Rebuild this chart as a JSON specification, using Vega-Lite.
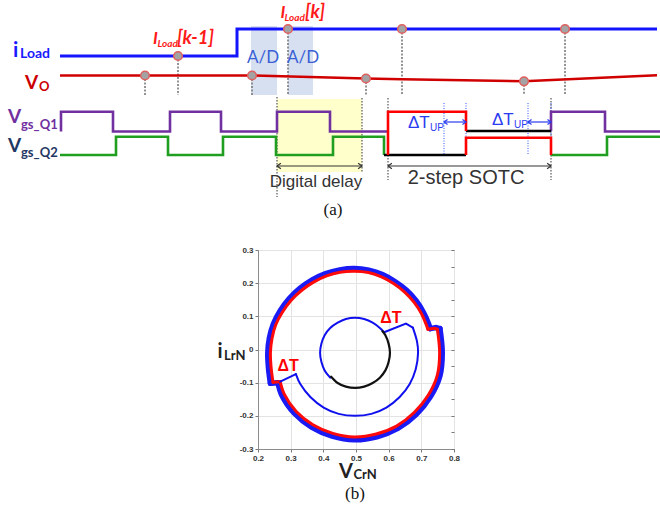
{
  "$schema": "https://vega.github.io/schema/vega-lite/v6.json",
  "padding": 0,
  "background": "white",
  "spacing": 25,
  "config": {"view": {"stroke": null}, "font": "Liberation Sans"},
  "vconcat": [
    {
      "width": 660,
      "height": 220,
      "encoding": {
        "x": {"field": "t", "type": "quantitative", "scale": {"domain": [0, 660], "nice": false, "zero": false}, "axis": null},
        "y": {"field": "v", "type": "quantitative", "scale": {"domain": [0, 220], "nice": false, "zero": false, "reverse": true}, "axis": null}
      },
      "layer": [
        {
          "data": {"values": [{"t": 251, "t2": 277, "v": 26, "v2": 95}, {"t": 288, "t2": 313, "v": 26, "v2": 95}]},
          "mark": {"type": "rect", "color": "#d6e0f0"},
          "encoding": {"x2": {"field": "t2"}, "y2": {"field": "v2"}}
        },
        {
          "data": {"values": [{"t": 277, "t2": 362, "v": 99, "v2": 172}]},
          "mark": {"type": "rect", "color": "#ffffcc"},
          "encoding": {"x2": {"field": "t2"}, "y2": {"field": "v2"}}
        },
        {
          "data": {"values": [
            {"t": 145, "v": 75.5, "v2": 95}, {"t": 178, "v": 56, "v2": 95}, {"t": 252, "v": 75.5, "v2": 95}, {"t": 288, "v": 29, "v2": 95},
            {"t": 366, "v": 78.5, "v2": 95}, {"t": 402, "v": 29, "v2": 95}, {"t": 524, "v": 81.3, "v2": 95}, {"t": 565, "v": 29, "v2": 95}
          ]},
          "mark": {"type": "rule", "color": "#7a7a7a", "strokeWidth": 1.6, "strokeDash": [2, 1.5]},
          "encoding": {"y2": {"field": "v2"}}
        },
        {
          "data": {"values": [{"t": 277, "v": 97, "v2": 197}, {"t": 362, "v": 98, "v2": 172}, {"t": 388, "v": 98, "v2": 180}, {"t": 551, "v": 98, "v2": 180}]},
          "mark": {"type": "rule", "color": "#555555", "strokeWidth": 1.2, "strokeDash": [1.5, 1.5]},
          "encoding": {"y2": {"field": "v2"}}
        },
        {
          "data": {"values": [{"t": 444, "v": 103, "v2": 155}, {"t": 466, "v": 103, "v2": 155}, {"t": 528, "v": 103, "v2": 155}, {"t": 551, "v": 103, "v2": 155}]},
          "mark": {"type": "rule", "color": "#3355ff", "strokeWidth": 1, "strokeDash": [1, 1.5]},
          "encoding": {"y2": {"field": "v2"}}
        },
        {
          "data": {"values": [
            {"seg": "a", "o": 1, "t": 61, "v": 131.5}, {"seg": "a", "o": 2, "t": 61, "v": 111.7}, {"seg": "a", "o": 3, "t": 113, "v": 111.7}, {"seg": "a", "o": 4, "t": 113, "v": 131.5},
            {"seg": "a", "o": 5, "t": 170, "v": 131.5}, {"seg": "a", "o": 6, "t": 170, "v": 111.7}, {"seg": "a", "o": 7, "t": 221, "v": 111.7}, {"seg": "a", "o": 8, "t": 221, "v": 131.5},
            {"seg": "a", "o": 9, "t": 277, "v": 131.5}, {"seg": "a", "o": 10, "t": 277, "v": 111.7}, {"seg": "a", "o": 11, "t": 330, "v": 111.7}, {"seg": "a", "o": 12, "t": 330, "v": 131.5},
            {"seg": "a", "o": 13, "t": 388, "v": 131.5},
            {"seg": "b", "o": 1, "t": 551, "v": 131}, {"seg": "b", "o": 2, "t": 551, "v": 111.7}, {"seg": "b", "o": 3, "t": 605, "v": 111.7}, {"seg": "b", "o": 4, "t": 605, "v": 131.5}, {"seg": "b", "o": 5, "t": 660, "v": 131.5}
          ]},
          "mark": {"type": "line", "color": "#7030a0", "strokeWidth": 2.6},
          "encoding": {"detail": {"field": "seg"}, "order": {"field": "o"}}
        },
        {
          "data": {"values": [
            {"seg": "a", "o": 1, "t": 60, "v": 155}, {"seg": "a", "o": 2, "t": 116, "v": 155}, {"seg": "a", "o": 3, "t": 116, "v": 136.7}, {"seg": "a", "o": 4, "t": 168, "v": 136.7},
            {"seg": "a", "o": 5, "t": 168, "v": 155}, {"seg": "a", "o": 6, "t": 223, "v": 155}, {"seg": "a", "o": 7, "t": 223, "v": 136.7}, {"seg": "a", "o": 8, "t": 276, "v": 136.7},
            {"seg": "a", "o": 9, "t": 276, "v": 155}, {"seg": "a", "o": 10, "t": 333, "v": 155}, {"seg": "a", "o": 11, "t": 333, "v": 136.7}, {"seg": "a", "o": 12, "t": 384, "v": 136.7},
            {"seg": "a", "o": 13, "t": 384, "v": 155},
            {"seg": "b", "o": 1, "t": 551, "v": 155}, {"seg": "b", "o": 2, "t": 607, "v": 155}, {"seg": "b", "o": 3, "t": 607, "v": 136.7}, {"seg": "b", "o": 4, "t": 660, "v": 136.7}
          ]},
          "mark": {"type": "line", "color": "#1f9e1f", "strokeWidth": 2.6},
          "encoding": {"detail": {"field": "seg"}, "order": {"field": "o"}}
        },
        {
          "data": {"values": [
            {"seg": "a", "o": 1, "t": 466, "v": 131}, {"seg": "a", "o": 2, "t": 551, "v": 131},
            {"seg": "b", "o": 1, "t": 384, "v": 155}, {"seg": "b", "o": 2, "t": 466, "v": 155}
          ]},
          "mark": {"type": "line", "color": "#000000", "strokeWidth": 2.6},
          "encoding": {"detail": {"field": "seg"}, "order": {"field": "o"}}
        },
        {
          "data": {"values": [
            {"seg": "a", "o": 1, "t": 388, "v": 155}, {"seg": "a", "o": 2, "t": 388, "v": 111.7}, {"seg": "a", "o": 3, "t": 466, "v": 111.7}, {"seg": "a", "o": 4, "t": 466, "v": 131},
            {"seg": "b", "o": 1, "t": 466, "v": 155}, {"seg": "b", "o": 2, "t": 466, "v": 137.7}, {"seg": "b", "o": 3, "t": 551, "v": 137.7}, {"seg": "b", "o": 4, "t": 551, "v": 155}
          ]},
          "mark": {"type": "line", "color": "#ff0000", "strokeWidth": 2.6},
          "encoding": {"detail": {"field": "seg"}, "order": {"field": "o"}}
        },
        {
          "data": {"values": [{"o": 1, "t": 60, "v": 56}, {"o": 2, "t": 237, "v": 56}, {"o": 3, "t": 237, "v": 29}, {"o": 4, "t": 657, "v": 29}]},
          "mark": {"type": "line", "color": "#1414ff", "strokeWidth": 3},
          "encoding": {"order": {"field": "o"}}
        },
        {
          "data": {"values": [{"o": 1, "t": 60, "v": 75.5}, {"o": 2, "t": 252, "v": 75.5}, {"o": 3, "t": 366, "v": 78.5}, {"o": 4, "t": 402, "v": 79.3}, {"o": 5, "t": 524, "v": 81.3}, {"o": 6, "t": 657, "v": 75.3}]},
          "mark": {"type": "line", "color": "#d00000", "strokeWidth": 2.6},
          "encoding": {"order": {"field": "o"}}
        },
        {
          "data": {"values": [
            {"t": 178, "v": 56}, {"t": 288, "v": 29}, {"t": 402, "v": 29}, {"t": 565, "v": 29},
            {"t": 145, "v": 75.5}, {"t": 252, "v": 75.5}, {"t": 366, "v": 78.5}, {"t": 524, "v": 81.3}
          ]},
          "mark": {"type": "point", "shape": "circle", "filled": true, "fill": "#a3a3a3", "stroke": "#e06060", "strokeWidth": 1.5, "size": 75, "opacity": 1}
        },
        {
          "data": {"values": [{"t": 277, "t2": 362, "v": 166}, {"t": 388, "t2": 551, "v": 166}]},
          "mark": {"type": "rule", "color": "#333333", "strokeWidth": 1.2},
          "encoding": {"x2": {"field": "t2"}}
        },
        {
          "data": {"values": [{"t": 444, "t2": 466, "v": 122}, {"t": 528, "t2": 551, "v": 122}]},
          "mark": {"type": "rule", "color": "#2a3cf0", "strokeWidth": 1.2},
          "encoding": {"x2": {"field": "t2"}}
        },
        {
          "data": {"values": [{"t": 277, "v": 166}, {"t": 388, "v": 166}]},
          "mark": {"type": "point", "shape": "M1,-0.7L0,0L1,0.7", "filled": false, "color": "#333333", "strokeWidth": 1.2, "size": 60, "opacity": 1}
        },
        {
          "data": {"values": [{"t": 362, "v": 166}, {"t": 551, "v": 166}]},
          "mark": {"type": "point", "shape": "M-1,-0.7L0,0L-1,0.7", "filled": false, "color": "#333333", "strokeWidth": 1.2, "size": 60, "opacity": 1}
        },
        {
          "data": {"values": [{"t": 444, "v": 122}, {"t": 528, "v": 122}]},
          "mark": {"type": "point", "shape": "M1,-0.7L0,0L1,0.7", "filled": false, "color": "#2a3cf0", "strokeWidth": 1.2, "size": 50, "opacity": 1}
        },
        {
          "data": {"values": [{"t": 466, "v": 122}, {"t": 551, "v": 122}]},
          "mark": {"type": "point", "shape": "M-1,-0.7L0,0L-1,0.7", "filled": false, "color": "#2a3cf0", "strokeWidth": 1.2, "size": 50, "opacity": 1}
        },
        {
          "data": {"values": [{"t": 13, "v": 57, "s": "i"}]},
          "mark": {"type": "text", "font": "Lato", "fontWeight": "bold", "fontSize": 21, "color": "#1a1aff", "align": "left", "baseline": "alphabetic"},
          "encoding": {"text": {"field": "s"}}
        },
        {
          "data": {"values": [{"t": 20, "v": 58, "s": "Load"}]},
          "mark": {"type": "text", "font": "Lato", "fontWeight": "bold", "fontSize": 14, "color": "#1a1aff", "align": "left", "baseline": "alphabetic"},
          "encoding": {"text": {"field": "s"}}
        },
        {
          "data": {"values": [{"t": 25, "v": 89, "s": "V"}]},
          "mark": {"type": "text", "font": "Lato", "fontWeight": "bold", "fontSize": 19, "color": "#cc0000", "align": "left", "baseline": "alphabetic"},
          "encoding": {"text": {"field": "s"}}
        },
        {
          "data": {"values": [{"t": 39, "v": 91, "s": "O"}]},
          "mark": {"type": "text", "font": "Lato", "fontWeight": "bold", "fontSize": 13, "color": "#cc0000", "align": "left", "baseline": "alphabetic"},
          "encoding": {"text": {"field": "s"}}
        },
        {
          "data": {"values": [{"t": 8, "v": 123, "s": "V"}]},
          "mark": {"type": "text", "font": "Lato", "fontWeight": "bold", "fontSize": 19, "color": "#7030a0", "align": "left", "baseline": "alphabetic"},
          "encoding": {"text": {"field": "s"}}
        },
        {
          "data": {"values": [{"t": 21, "v": 129, "s": "gs_Q1"}]},
          "mark": {"type": "text", "font": "Lato", "fontWeight": "bold", "fontSize": 13, "color": "#7030a0", "align": "left", "baseline": "alphabetic"},
          "encoding": {"text": {"field": "s"}}
        },
        {
          "data": {"values": [{"t": 8, "v": 152, "s": "V"}]},
          "mark": {"type": "text", "font": "Lato", "fontWeight": "bold", "fontSize": 19, "color": "#1f3864", "align": "left", "baseline": "alphabetic"},
          "encoding": {"text": {"field": "s"}}
        },
        {
          "data": {"values": [{"t": 21, "v": 157, "s": "gs_Q2"}]},
          "mark": {"type": "text", "font": "Lato", "fontWeight": "bold", "fontSize": 13, "color": "#1f3864", "align": "left", "baseline": "alphabetic"},
          "encoding": {"text": {"field": "s"}}
        },
        {
          "data": {"values": [{"t": 153, "v": 44, "s": "I"}, {"t": 280.5, "v": 18, "s": "I"}]},
          "mark": {"type": "text", "font": "Lato", "fontWeight": "bold", "fontStyle": "italic", "fontSize": 17, "color": "#ff1a1a", "align": "left", "baseline": "alphabetic"},
          "encoding": {"text": {"field": "s"}}
        },
        {
          "data": {"values": [{"t": 177, "v": 44, "s": "[k-1]"}, {"t": 305, "v": 18, "s": "[k]"}]},
          "mark": {"type": "text", "font": "Lato", "fontWeight": "bold", "fontStyle": "italic", "fontSize": 18.5, "color": "#ff1a1a", "align": "left", "baseline": "alphabetic"},
          "encoding": {"text": {"field": "s"}}
        },
        {
          "data": {"values": [{"t": 157.5, "v": 47, "s": "Load"}, {"t": 284.5, "v": 21, "s": "Load"}]},
          "mark": {"type": "text", "font": "Lato", "fontWeight": "bold", "fontStyle": "italic", "fontSize": 10, "color": "#ff1a1a", "align": "left", "baseline": "alphabetic"},
          "encoding": {"text": {"field": "s"}}
        },
        {
          "data": {"values": [{"t": 263, "v": 63, "s": "A/D"}, {"t": 303, "v": 63, "s": "A/D"}]},
          "mark": {"type": "text", "font": "Lato", "fontSize": 17, "color": "#3a5fd6", "align": "center", "baseline": "alphabetic"},
          "encoding": {"text": {"field": "s"}}
        },
        {
          "data": {"values": [{"t": 316, "v": 187, "s": "Digital delay"}]},
          "mark": {"type": "text", "font": "Liberation Sans", "fontSize": 17, "color": "#333333", "align": "center", "baseline": "alphabetic"},
          "encoding": {"text": {"field": "s"}}
        },
        {
          "data": {"values": [{"t": 466, "v": 184, "s": "2-step SOTC"}]},
          "mark": {"type": "text", "font": "Liberation Sans", "fontSize": 20, "color": "#333333", "align": "center", "baseline": "alphabetic"},
          "encoding": {"text": {"field": "s"}}
        },
        {
          "data": {"values": [{"t": 408, "v": 128, "s": "ΔT"}, {"t": 492, "v": 125, "s": "ΔT"}]},
          "mark": {"type": "text", "font": "Liberation Sans", "fontSize": 17, "color": "#2a3cf0", "align": "left", "baseline": "alphabetic"},
          "encoding": {"text": {"field": "s"}}
        },
        {
          "data": {"values": [{"t": 430, "v": 131, "s": "UP"}, {"t": 514, "v": 128, "s": "UP"}]},
          "mark": {"type": "text", "font": "Liberation Sans", "fontSize": 10, "color": "#2a3cf0", "align": "left", "baseline": "alphabetic"},
          "encoding": {"text": {"field": "s"}}
        },
        {
          "data": {"values": [{"t": 333, "v": 215, "s": "(a)"}]},
          "mark": {"type": "text", "font": "Liberation Serif", "fontSize": 17, "color": "#111111", "align": "center", "baseline": "alphabetic"},
          "encoding": {"text": {"field": "s"}}
        }
      ]
    },
    {
      "spacing": 0,
      "hconcat": [
        {
          "width": 216,
          "height": 20,
          "data": {"values": [{"a": 1}]},
          "mark": {"type": "point", "opacity": 0},
          "encoding": {}
        },
        {
          "width": 196,
          "height": 199,
          "view": {"stroke": "#8c8c8c", "strokeWidth": 1},
          "resolve": {"axis": {"y": "independent"}},
          "layer": [
            {
              "encoding": {
                "x": {"field": "x", "type": "quantitative", "scale": {"domain": [0.2, 0.8], "nice": false, "zero": false},
                  "axis": {"orient": "bottom", "values": [0.2, 0.3, 0.4, 0.5, 0.6, 0.7, 0.8], "labelExpr": "toString(datum.value)", "title": null, "grid": true, "gridColor": "#e3e3e3", "tickSize": 3, "tickColor": "#777777", "domainColor": "#8c8c8c", "labelFont": "Liberation Sans", "labelFontSize": 8, "labelFontWeight": "bold", "labelColor": "#333333", "labelPadding": 2, "labelFlush": false}},
                "y": {"field": "y", "type": "quantitative", "scale": {"domain": [-0.3, 0.3], "nice": false, "zero": false},
                  "axis": {"orient": "left", "values": [-0.3, -0.2, -0.1, 0, 0.1, 0.2, 0.3], "labelExpr": "toString(datum.value)", "title": null, "grid": true, "gridColor": "#e3e3e3", "tickSize": 3, "tickColor": "#777777", "domainColor": "#8c8c8c", "labelFont": "Liberation Sans", "labelFontSize": 8, "labelFontWeight": "bold", "labelColor": "#333333", "labelPadding": 2, "labelFlush": false}}
              },
              "layer": [
                {
                  "data": {"values": [
                    {"seg": "A", "o": 1, "x": 0.238, "y": -0.102}, {"seg": "A", "o": 2, "x": 0.232, "y": -0.055}, {"seg": "A", "o": 3, "x": 0.230, "y": -0.010}, {"seg": "A", "o": 4, "x": 0.235, "y": 0.035},
                    {"seg": "A", "o": 5, "x": 0.247, "y": 0.077}, {"seg": "A", "o": 6, "x": 0.268, "y": 0.117}, {"seg": "A", "o": 7, "x": 0.295, "y": 0.153}, {"seg": "A", "o": 8, "x": 0.328, "y": 0.184},
                    {"seg": "A", "o": 9, "x": 0.366, "y": 0.210}, {"seg": "A", "o": 10, "x": 0.407, "y": 0.229}, {"seg": "A", "o": 11, "x": 0.450, "y": 0.240}, {"seg": "A", "o": 12, "x": 0.495, "y": 0.244},
                    {"seg": "A", "o": 13, "x": 0.539, "y": 0.239}, {"seg": "A", "o": 14, "x": 0.581, "y": 0.226}, {"seg": "A", "o": 15, "x": 0.619, "y": 0.205}, {"seg": "A", "o": 16, "x": 0.654, "y": 0.179},
                    {"seg": "A", "o": 17, "x": 0.684, "y": 0.147}, {"seg": "A", "o": 18, "x": 0.707, "y": 0.111}, {"seg": "A", "o": 19, "x": 0.722, "y": 0.078}, {"seg": "A", "o": 20, "x": 0.727, "y": 0.063},
                    {"seg": "B", "o": 1, "x": 0.757, "y": 0.063}, {"seg": "B", "o": 2, "x": 0.764, "y": -0.010}, {"seg": "B", "o": 3, "x": 0.757, "y": -0.079}, {"seg": "B", "o": 4, "x": 0.728, "y": -0.142},
                    {"seg": "B", "o": 5, "x": 0.684, "y": -0.196}, {"seg": "B", "o": 6, "x": 0.628, "y": -0.238}, {"seg": "B", "o": 7, "x": 0.564, "y": -0.263}, {"seg": "B", "o": 8, "x": 0.495, "y": -0.272},
                    {"seg": "B", "o": 9, "x": 0.427, "y": -0.261}, {"seg": "B", "o": 10, "x": 0.364, "y": -0.234}, {"seg": "B", "o": 11, "x": 0.311, "y": -0.192}, {"seg": "B", "o": 12, "x": 0.273, "y": -0.138},
                    {"seg": "B", "o": 13, "x": 0.261, "y": -0.100}
                  ]},
                  "mark": {"type": "line", "color": "#1a1af5", "strokeWidth": 5.5, "interpolate": "catmull-rom", "strokeCap": "round"},
                  "encoding": {"detail": {"field": "seg"}, "order": {"field": "o"}}
                },
                {
                  "data": {"values": [
                    {"seg": "R", "o": 1, "x": 0.727, "y": 0.063}, {"seg": "R", "o": 2, "x": 0.745, "y": 0.066}, {"seg": "R", "o": 3, "x": 0.757, "y": 0.063},
                    {"seg": "L", "o": 1, "x": 0.261, "y": -0.100}, {"seg": "L", "o": 2, "x": 0.238, "y": -0.102}
                  ]},
                  "mark": {"type": "line", "color": "#1a1af5", "strokeWidth": 5.5, "strokeCap": "round"},
                  "encoding": {"detail": {"field": "seg"}, "order": {"field": "o"}}
                },
                {
                  "data": {"values": [
                    {"seg": "A", "o": 1, "x": 0.246, "y": -0.099}, {"seg": "A", "o": 2, "x": 0.240, "y": -0.053}, {"seg": "A", "o": 3, "x": 0.238, "y": -0.010}, {"seg": "A", "o": 4, "x": 0.243, "y": 0.034},
                    {"seg": "A", "o": 5, "x": 0.254, "y": 0.074}, {"seg": "A", "o": 6, "x": 0.275, "y": 0.113}, {"seg": "A", "o": 7, "x": 0.301, "y": 0.148}, {"seg": "A", "o": 8, "x": 0.333, "y": 0.178},
                    {"seg": "A", "o": 9, "x": 0.370, "y": 0.203}, {"seg": "A", "o": 10, "x": 0.410, "y": 0.222}, {"seg": "A", "o": 11, "x": 0.451, "y": 0.233}, {"seg": "A", "o": 12, "x": 0.495, "y": 0.236},
                    {"seg": "A", "o": 13, "x": 0.538, "y": 0.232}, {"seg": "A", "o": 14, "x": 0.578, "y": 0.219}, {"seg": "A", "o": 15, "x": 0.615, "y": 0.199}, {"seg": "A", "o": 16, "x": 0.649, "y": 0.173},
                    {"seg": "A", "o": 17, "x": 0.678, "y": 0.142}, {"seg": "A", "o": 18, "x": 0.701, "y": 0.107}, {"seg": "A", "o": 19, "x": 0.715, "y": 0.075}, {"seg": "A", "o": 20, "x": 0.720, "y": 0.061},
                    {"seg": "B", "o": 1, "x": 0.749, "y": 0.061}, {"seg": "B", "o": 2, "x": 0.756, "y": -0.010}, {"seg": "B", "o": 3, "x": 0.749, "y": -0.077}, {"seg": "B", "o": 4, "x": 0.721, "y": -0.138},
                    {"seg": "B", "o": 5, "x": 0.678, "y": -0.190}, {"seg": "B", "o": 6, "x": 0.624, "y": -0.231}, {"seg": "B", "o": 7, "x": 0.562, "y": -0.255}, {"seg": "B", "o": 8, "x": 0.495, "y": -0.264},
                    {"seg": "B", "o": 9, "x": 0.429, "y": -0.253}, {"seg": "B", "o": 10, "x": 0.368, "y": -0.227}, {"seg": "B", "o": 11, "x": 0.317, "y": -0.187}, {"seg": "B", "o": 12, "x": 0.280, "y": -0.134},
                    {"seg": "B", "o": 13, "x": 0.268, "y": -0.097}
                  ]},
                  "mark": {"type": "line", "color": "#ff0a0a", "strokeWidth": 3, "interpolate": "catmull-rom", "strokeCap": "round"},
                  "encoding": {"detail": {"field": "seg"}, "order": {"field": "o"}}
                },
                {
                  "data": {"values": [
                    {"seg": "R", "o": 1, "x": 0.720, "y": 0.061}, {"seg": "R", "o": 2, "x": 0.740, "y": 0.064}, {"seg": "R", "o": 3, "x": 0.749, "y": 0.061},
                    {"seg": "L", "o": 1, "x": 0.268, "y": -0.097}, {"seg": "L", "o": 2, "x": 0.246, "y": -0.099}
                  ]},
                  "mark": {"type": "line", "color": "#ff0a0a", "strokeWidth": 3, "strokeCap": "round"},
                  "encoding": {"detail": {"field": "seg"}, "order": {"field": "o"}}
                },
                {
                  "data": {"values": [
                    {"seg": "M", "o": 1, "x": 0.316, "y": -0.074}, {"seg": "M", "o": 2, "x": 0.330, "y": -0.105}, {"seg": "M", "o": 3, "x": 0.361, "y": -0.144}, {"seg": "M", "o": 4, "x": 0.401, "y": -0.175},
                    {"seg": "M", "o": 5, "x": 0.447, "y": -0.194}, {"seg": "M", "o": 6, "x": 0.497, "y": -0.200}, {"seg": "M", "o": 7, "x": 0.547, "y": -0.194}, {"seg": "M", "o": 8, "x": 0.593, "y": -0.175},
                    {"seg": "M", "o": 9, "x": 0.633, "y": -0.144}, {"seg": "M", "o": 10, "x": 0.664, "y": -0.105}, {"seg": "M", "o": 11, "x": 0.683, "y": -0.059}, {"seg": "M", "o": 12, "x": 0.690, "y": -0.010},
                    {"seg": "M", "o": 13, "x": 0.687, "y": 0.023}, {"seg": "M", "o": 14, "x": 0.674, "y": 0.066},
                    {"seg": "I", "o": 1, "x": 0.586, "y": 0.052}, {"seg": "I", "o": 2, "x": 0.573, "y": 0.065}, {"seg": "I", "o": 3, "x": 0.551, "y": 0.081}, {"seg": "I", "o": 4, "x": 0.525, "y": 0.092},
                    {"seg": "I", "o": 5, "x": 0.497, "y": 0.096}, {"seg": "I", "o": 6, "x": 0.469, "y": 0.092}, {"seg": "I", "o": 7, "x": 0.444, "y": 0.081}, {"seg": "I", "o": 8, "x": 0.421, "y": 0.065},
                    {"seg": "I", "o": 9, "x": 0.404, "y": 0.043}, {"seg": "I", "o": 10, "x": 0.394, "y": 0.017}, {"seg": "I", "o": 11, "x": 0.390, "y": -0.010}, {"seg": "I", "o": 12, "x": 0.394, "y": -0.037},
                    {"seg": "I", "o": 13, "x": 0.404, "y": -0.063}, {"seg": "I", "o": 14, "x": 0.421, "y": -0.085}
                  ]},
                  "mark": {"type": "line", "color": "#1010ee", "strokeWidth": 2, "interpolate": "catmull-rom", "strokeCap": "round"},
                  "encoding": {"detail": {"field": "seg"}, "order": {"field": "o"}}
                },
                {
                  "data": {"values": [
                    {"seg": "L", "o": 1, "x": 0.268, "y": -0.097}, {"seg": "L", "o": 2, "x": 0.316, "y": -0.074},
                    {"seg": "R", "o": 1, "x": 0.674, "y": 0.066}, {"seg": "R", "o": 2, "x": 0.653, "y": 0.078}, {"seg": "R", "o": 3, "x": 0.586, "y": 0.052}
                  ]},
                  "mark": {"type": "line", "color": "#1010ee", "strokeWidth": 2, "strokeCap": "round"},
                  "encoding": {"detail": {"field": "seg"}, "order": {"field": "o"}}
                },
                {
                  "data": {"values": [
                    {"o": 1, "x": 0.424, "y": -0.082}, {"o": 2, "x": 0.444, "y": -0.101}, {"o": 3, "x": 0.469, "y": -0.112}, {"o": 4, "x": 0.497, "y": -0.116},
                    {"o": 5, "x": 0.525, "y": -0.112}, {"o": 6, "x": 0.551, "y": -0.101}, {"o": 7, "x": 0.573, "y": -0.085}, {"o": 8, "x": 0.590, "y": -0.063},
                    {"o": 9, "x": 0.600, "y": -0.037}, {"o": 10, "x": 0.604, "y": -0.010}, {"o": 11, "x": 0.600, "y": 0.017}, {"o": 12, "x": 0.590, "y": 0.043},
                    {"o": 13, "x": 0.581, "y": 0.055}
                  ]},
                  "mark": {"type": "line", "color": "#111111", "strokeWidth": 2.2, "interpolate": "catmull-rom", "strokeCap": "round"},
                  "encoding": {"order": {"field": "o"}}
                },
                {
                  "data": {"values": [{"x": 0.607, "y": 0.08, "s": "ΔT"}, {"x": 0.292, "y": -0.065, "s": "ΔT"}]},
                  "mark": {"type": "text", "font": "Liberation Sans", "fontWeight": "bold", "fontSize": 16, "color": "#ff0000", "align": "center", "baseline": "alphabetic"},
                  "encoding": {"text": {"field": "s"}}
                },
                {
                  "data": {"values": [{"x": 0.076, "y": -0.026, "s": "i"}, {"x": 0.448, "y": -0.387, "s": "V"}]},
                  "mark": {"type": "text", "font": "Lato", "fontWeight": "bold", "fontSize": 20, "color": "#222222", "align": "left", "baseline": "alphabetic"},
                  "encoding": {"text": {"field": "s"}}
                },
                {
                  "data": {"values": [{"x": 0.096, "y": -0.032, "s": "LrN"}, {"x": 0.492, "y": -0.39, "s": "CrN"}]},
                  "mark": {"type": "text", "font": "Lato", "fontWeight": "bold", "fontSize": 13, "color": "#222222", "align": "left", "baseline": "alphabetic"},
                  "encoding": {"text": {"field": "s"}}
                },
                {
                  "data": {"values": [{"x": 0.497, "y": -0.451, "s": "(b)"}]},
                  "mark": {"type": "text", "font": "Liberation Serif", "fontSize": 17, "color": "#111111", "align": "center", "baseline": "alphabetic"},
                  "encoding": {"text": {"field": "s"}}
                }
              ]
            },
            {
              "data": {"values": [{"y": 0}]},
              "mark": {"type": "point", "opacity": 0},
              "encoding": {
                "y": {"field": "y", "type": "quantitative", "scale": {"domain": [-0.3, 0.3], "nice": false, "zero": false},
                  "axis": {"orient": "right", "values": [-0.3, -0.25, -0.2, -0.15, -0.1, -0.05, 0, 0.05, 0.1, 0.15, 0.2, 0.25, 0.3], "labels": false, "title": null, "grid": false, "domain": false, "tickSize": -3, "tickColor": "#777777"}}
              }
            }
          ]
        }
      ]
    }
  ]
}
